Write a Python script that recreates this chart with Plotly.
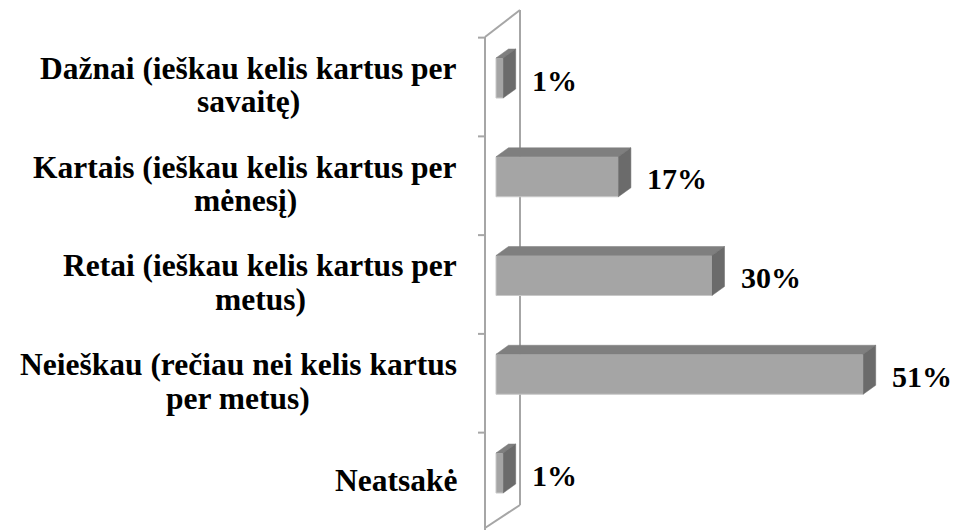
import plotly.graph_objects as go

categories = [
    "Dažnai (ieškau kelis kartus per<br>savaitę)",
    "Kartais (ieškau kelis kartus per<br>mėnesį)",
    "Retai (ieškau kelis kartus per<br>metus)",
    "Neieškau (rečiau nei kelis kartus<br>per metus)",
    "Neatsakė",
]
values = [1, 17, 30, 51, 1]
value_labels = [f"{v}%" for v in values]

W, H = 956, 530
PX_X = 7.2      # pixels per percent
X0 = 496        # pixel column of 0 %
PX_Y = 98.75    # pixels per category
Y0 = 78         # pixel row of first category centre


def to_x(px):
    return (px - X0) / PX_X


def to_y(py):
    return (py - Y0) / PX_Y


pos = list(range(len(categories)))
half = 20 / PX_Y          # half bar thickness
ddx = 12.5 / PX_X         # 3d depth, horizontal
ddy = 9 / PX_Y            # 3d depth, vertical

FRONT, TOP, SIDE = "#a5a5a5", "#7f7f7f", "#6b6b6b"
WALL = "#a6a6a6"
FONT = "Liberation Serif"
LAB_SIZE, VAL_SIZE = 31.5, 30
LINE_GAP = 33.5           # distance between label lines (px)
LAB_RIGHT = 457           # right edge of the label block (px)

# Times/Liberation Serif Bold advance widths (1/1000 em) for centring lines
CHAR_W = {" ": 250, "(": 333, ")": 333, "a": 500, "c": 444, "č": 444, "D": 722,
          "e": 444, "ę": 444, "ė": 444, "i": 278, "į": 278, "K": 778, "k": 556,
          "l": 278, "m": 833, "N": 722, "n": 556, "p": 556, "R": 722, "r": 444,
          "s": 389, "š": 389, "t": 333, "u": 556, "v": 500, "z": 444, "ž": 444}


def text_px(s, size):
    return sum(CHAR_W.get(c, 500) for c in s) / 1000 * size


fig = go.Figure()
fig.add_trace(go.Bar(
    x=values, y=pos, orientation="h", width=2 * half,
    marker=dict(color=FRONT, line=dict(color="#c8c8c8", width=1)),
    hoverinfo="x+y",
))

shapes = []
# walls of the 3d frame
xf, xb = to_x(485), to_x(520)
wall = dict(type="line", xref="x", yref="y", line=dict(color=WALL, width=2), layer="below")
shapes.append(dict(wall, x0=xf, x1=xf, y0=to_y(37), y1=to_y(531)))
shapes.append(dict(wall, x0=xb, x1=xb, y0=to_y(10), y1=to_y(505)))
shapes.append(dict(wall, x0=xf, x1=xb, y0=to_y(37), y1=to_y(10)))
shapes.append(dict(wall, x0=xf, x1=xb, y0=to_y(528), y1=to_y(505)))
for k in range(len(categories) + 1):
    yk = k - 0.5 + ddy
    shapes.append(dict(wall, x0=to_x(478), x1=xf, y0=yk, y1=yk))

# top and side faces of each bar
for i, v in zip(pos, values):
    yt, yb = i - half, i + half
    shapes.append(dict(
        type="path", xref="x", yref="y", fillcolor=TOP, line=dict(color=TOP, width=0.5),
        path=f"M 0,{yt} L {v},{yt} L {v + ddx},{yt - ddy} L {ddx},{yt - ddy} Z",
    ))
    shapes.append(dict(
        type="path", xref="x", yref="y", fillcolor=SIDE, line=dict(color=SIDE, width=0.5),
        path=f"M {v},{yt} L {v + ddx},{yt - ddy} L {v + ddx},{yb - ddy} L {v},{yb} Z",
    ))

annotations = []
# category labels: block right-aligned to the axis, lines centred within it
for i, lab in zip(pos, categories):
    lines = lab.split("<br>")
    n = len(lines)
    block = max(text_px(ln, LAB_SIZE) for ln in lines)
    xc = to_x(LAB_RIGHT - block / 2)
    for k, ln in enumerate(lines):
        rel = k - (n - 1) / 2
        annotations.append(dict(
            x=xc, y=i, xref="x", yref="y", text=f"<b>{ln}</b>",
            xanchor="center", yanchor="middle", showarrow=False,
            yshift=-(7 + rel * LINE_GAP), font=dict(family=FONT, size=LAB_SIZE, color="black"),
        ))
for i, v, lab in zip(pos, values, value_labels):
    annotations.append(dict(
        x=v, y=i, xref="x", yref="y", text=f"<b>{lab}</b>",
        xanchor="left", yanchor="middle", showarrow=False,
        xshift=27, yshift=-2, font=dict(family=FONT, size=VAL_SIZE, color="black"),
    ))

fig.update_layout(
    width=W, height=H, margin=dict(l=0, r=0, t=0, b=0),
    paper_bgcolor="white", plot_bgcolor="white", showlegend=False,
    xaxis=dict(range=[to_x(0), to_x(W)], visible=False, fixedrange=True),
    yaxis=dict(range=[to_y(H), to_y(0)], visible=False, fixedrange=True),
    shapes=shapes, annotations=annotations,
)

# drop the browser's default 8px body margin so the figure sits at the corner
fig.write_html("out.html", config={"displayModeBar": False},
               post_script="document.body.style.margin='0';")
